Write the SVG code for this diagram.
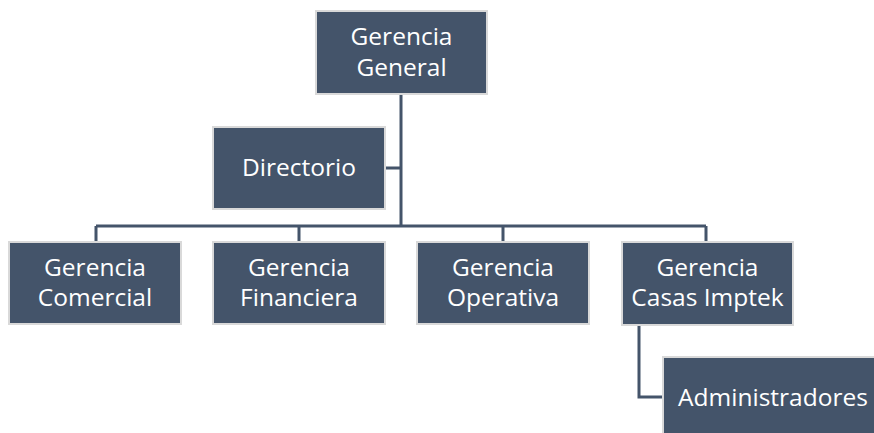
<svg xmlns="http://www.w3.org/2000/svg" width="874" height="433" viewBox="0 0 874 433">
<style>
.box{fill:#44546a;stroke:#d9d9d9;stroke-width:2}
.t{font-family:"Open Sans","Liberation Sans",sans-serif;font-size:24.5px;fill:#ffffff;text-anchor:middle}
.c{fill:none;stroke:#44546a;stroke-width:3}
</style>
<rect width="874" height="433" fill="#ffffff"/>
<g id="connectors">
<path class="c" d="M401 93 V226 M96 226 H706 M96 226 V242 M299 226 V242 M503 226 V242 M706 226 V242 M385 168 H401 M639 325 V397 H663"/>
</g>
<g id="gerencia-general">
<rect class="box" x="316" y="11" width="171" height="83"/>
<text class="t" x="401.5" y="45">Gerencia</text>
<text class="t" x="401.5" y="76">General</text>
</g>
<g id="directorio">
<rect class="box" x="213" y="127" width="172" height="82"/>
<text class="t" x="299" y="176">Directorio</text>
</g>
<g id="gerencia-comercial">
<rect class="box" x="9" y="242" width="172" height="82"/>
<text class="t" x="95" y="276">Gerencia</text>
<text class="t" x="95" y="306">Comercial</text>
</g>
<g id="gerencia-financiera">
<rect class="box" x="213" y="242" width="172" height="82"/>
<text class="t" x="299" y="276">Gerencia</text>
<text class="t" x="299" y="306">Financiera</text>
</g>
<g id="gerencia-operativa">
<rect class="box" x="417" y="242" width="172" height="82"/>
<text class="t" x="503" y="276">Gerencia</text>
<text class="t" x="503" y="306">Operativa</text>
</g>
<g id="gerencia-casas-imptek">
<rect class="box" x="622" y="242" width="171" height="83"/>
<text class="t" x="707.5" y="276">Gerencia</text>
<text class="t" x="707.5" y="306">Casas Imptek</text>
</g>
<g id="administradores">
<rect class="box" x="663" y="357" width="222" height="90"/>
<text class="t" x="773" y="406">Administradores</text>
</g>
</svg>
